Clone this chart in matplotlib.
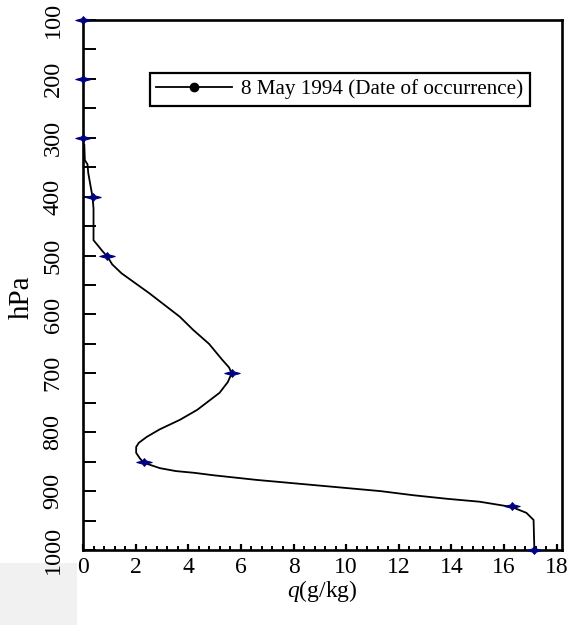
import matplotlib
matplotlib.use("Agg")
import matplotlib.pyplot as plt
from matplotlib.path import Path
from matplotlib.lines import Line2D
from matplotlib.patches import Rectangle
import numpy as np

plt.rcParams['font.family'] = ['Liberation Serif', 'DejaVu Serif']
plt.rcParams['mathtext.fontset'] = 'custom'
plt.rcParams['mathtext.it'] = 'Liberation Serif:italic'
plt.rcParams['mathtext.rm'] = 'Liberation Serif'

# Observed specific humidity at standard pressure levels
levels_hpa = [100, 200, 300, 400, 500, 700, 850, 925, 1000]
q_levels = [0.0, 0.0, 0.0, 0.38, 0.93, 5.65, 2.3, 16.3, 17.15]

# Smoothed vertical profile
profile_hpa = [312, 338, 345, 360, 380, 400, 420, 474, 482, 492, 502, 515, 530,
               564, 604, 626, 650, 677, 690, 700, 715, 733, 762, 779, 795, 808,
               818, 825, 835, 845, 852, 861, 866, 869, 873, 881, 891, 900, 907,
               913, 918, 927, 937, 949, 1000]
profile_q = [0.05, 0.07, 0.17, 0.2, 0.28, 0.36, 0.4, 0.4, 0.55, 0.73, 0.93, 1.11, 1.46,
             2.52, 3.68, 4.18, 4.79, 5.29, 5.55, 5.65, 5.5, 5.19, 4.34, 3.68, 2.92, 2.42,
             2.12, 2.02, 2.02, 2.17, 2.32, 2.92, 3.53, 4.24, 4.94, 6.6, 9.08, 11.3, 12.55,
             13.82, 15.07, 16.3, 16.85, 17.12, 17.15]

series_label = '8 May 1994 (Date of occurrence)'
x_ticks = list(range(0, 19, 2))
y_ticks = list(range(100, 1001, 100))

# flattened four-point star marker
star = Path([(-1.0, 0.0), (-0.25, 0.2), (0.0, 0.5), (0.25, 0.2), (1.0, 0.0),
             (0.25, -0.2), (0.0, -0.5), (-0.25, -0.2), (-1.0, 0.0)],
            [Path.MOVETO] + [Path.LINETO] * 7 + [Path.CLOSEPOLY])

fig = plt.figure(figsize=(5.71, 6.25), dpi=100)
fig.patches.append(Rectangle((0, 0), 77 / 571, 62 / 625, transform=fig.transFigure,
                             facecolor='#f1f1f1', edgecolor='none', zorder=-10))
ax = fig.add_axes([83 / 571, 1 - 550 / 625, (562 - 83) / 571, (550 - 20) / 625])
ax.patch.set_alpha(0)

ax.plot(profile_q, profile_hpa, color='black', lw=1.3, zorder=3, clip_on=False)
ax.plot(q_levels, levels_hpa, linestyle='none', marker=star, markersize=11,
        color='#00007f', markeredgecolor='#00007f', markeredgewidth=0.8,
        zorder=4, clip_on=False)

ax.set_xlim(0, 18.2)
ax.set_ylim(1000, 100)

ax.set_xticks(x_ticks)
ax.set_xticks(np.arange(0, 18.01, 0.4), minor=True)
ax.set_yticks(y_ticks)
ax.set_yticks(range(100, 1001, 50), minor=True)
ax.set_yticklabels([str(v) for v in y_ticks], rotation=90, va='center')

ax.tick_params(axis='x', which='major', direction='in', length=4, width=1.6,
               labelsize=17, pad=5)
ax.tick_params(axis='x', which='minor', direction='in', length=3, width=1.4)
ax.tick_params(axis='y', which='both', direction='in', length=9, width=1.4,
               labelsize=17.5, pad=14)

for s in ax.spines.values():
    s.set_linewidth(1.9)
    s.set_color('black')

ax.set_xlabel(r'$q$(g/kg)', fontsize=17, labelpad=0)
ax.set_ylabel('hPa', fontsize=21)
ax.yaxis.set_label_coords(-0.1, 0.477)

handle = Line2D([], [], color='black', lw=1.3, marker='o', markersize=6,
                markerfacecolor='black')
leg = ax.legend([handle], [series_label], loc='upper left',
                bbox_to_anchor=(0.14, 0.9), borderaxespad=0, fontsize=15.2,
                handlelength=3.6, handletextpad=0.42, borderpad=0.3,
                frameon=True, fancybox=False, framealpha=1)
leg.get_frame().set_edgecolor('black')
leg.get_frame().set_linewidth(1.6)

fig.savefig('out.png', dpi=100)
